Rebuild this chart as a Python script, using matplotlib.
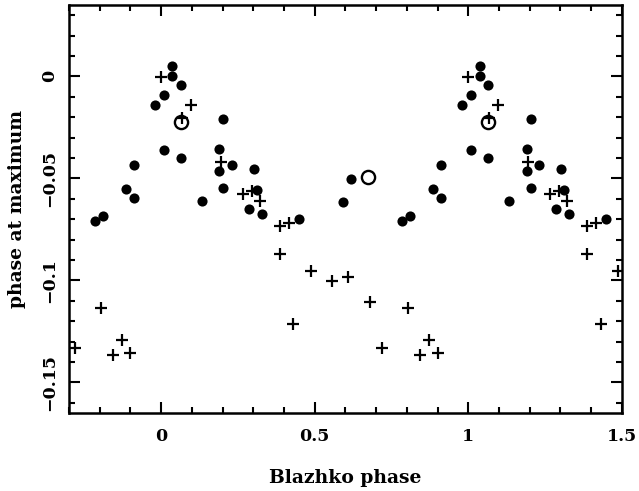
import numpy as np
import matplotlib
matplotlib.use('Agg')
import matplotlib.pyplot as plt
from matplotlib.ticker import MultipleLocator

# base Blazhko phases (0..1) and phase at maximum
dots_phase = [0.785, 0.812, 0.884, 0.912, 0.912, 0.981, 0.010, 0.037, 0.037, 0.065,
              0.010, 0.065, 0.132, 0.203, 0.190, 0.190, 0.232, 0.203, 0.301, 0.312,
              0.286, 0.328, 0.450, 0.591, 0.618]
dots_max = [-0.0711, -0.0686, -0.0551, -0.0596, -0.0436, -0.0139, -0.0093, 0.0049, 0.0, -0.0044,
            -0.0359, -0.0400, -0.0610, -0.0209, -0.0355, -0.0462, -0.0433, -0.0547, -0.0453, -0.0556,
            -0.0649, -0.0675, -0.0698, -0.0616, -0.0502]

cross_phase = [0.998, 0.098, 0.067, 0.195, 0.266, 0.295, 0.322, 0.388, 0.415, 0.388,
               0.487, 0.556, 0.610, 0.431, 0.681, 0.720, 0.803, 0.871, 0.842, 0.900]
cross_max = [-0.0005, -0.0139, -0.0204, -0.0420, -0.0577, -0.0564, -0.0613, -0.0735, -0.0719, -0.0871,
             -0.0953, -0.1005, -0.0985, -0.1213, -0.1106, -0.1332, -0.1136, -0.1291, -0.1364, -0.1358]

open_phase = [0.064, 0.673]
open_max = [-0.0224, -0.0494]

XMIN, XMAX = -0.3, 1.5


def repeat(ph, val):
    # plot each point at phase-1, phase, phase+1 when it falls in the window
    ph = np.asarray(ph)
    val = np.asarray(val)
    xs, ys = [], []
    for k in (-1, 0, 1):
        x = ph + k
        m = (x >= XMIN - 0.01) & (x <= XMAX + 0.01)
        xs.append(x[m])
        ys.append(val[m])
    return np.concatenate(xs), np.concatenate(ys)


plt.rcParams['font.family'] = ['DejaVu Serif']
plt.rcParams['font.weight'] = 'bold'

fig = plt.figure(figsize=(6.39, 4.91), dpi=100)
ax = fig.add_axes([0.108, 0.159, 0.865, 0.831])

x, y = repeat(dots_phase, dots_max)
ax.plot(x, y, 'o', color='black', markersize=7.3, markeredgewidth=0)
x, y = repeat(cross_phase, cross_max)
ax.plot(x, y, '+', color='black', markersize=9, markeredgewidth=1.6)
x, y = repeat(open_phase, open_max)
ax.plot(x, y, 'o', markerfacecolor='none', markeredgecolor='black',
        markersize=9.5, markeredgewidth=1.7)

ax.set_xlim(XMIN, XMAX)
ax.set_ylim(-0.165, 0.035)
ax.xaxis.set_minor_locator(MultipleLocator(0.1))
ax.yaxis.set_minor_locator(MultipleLocator(0.01))
ax.set_xticks([0, 0.5, 1, 1.5])
ax.set_xticklabels(['0', '0.5', '1', '1.5'])
ax.set_yticks([0, -0.05, -0.1, -0.15])
ax.set_yticklabels(['0', '\u22120.05', '\u22120.1', '\u22120.15'], rotation=90, va='center')
ax.tick_params(which='both', direction='in', top=True, right=True, width=1.5, labelsize=12.5)
ax.tick_params(which='major', length=8)
ax.tick_params(axis='x', which='major', pad=11)
ax.tick_params(axis='y', which='major', pad=8)
ax.tick_params(which='minor', length=4)
for s in ax.spines.values():
    s.set_linewidth(1.8)

ax.set_xlabel('Blazhko phase', fontsize=13.5, fontweight='bold', labelpad=17)
ax.set_ylabel('phase at maximum', fontsize=13.5, fontweight='bold', labelpad=11)

fig.savefig('out.png', dpi=100)
